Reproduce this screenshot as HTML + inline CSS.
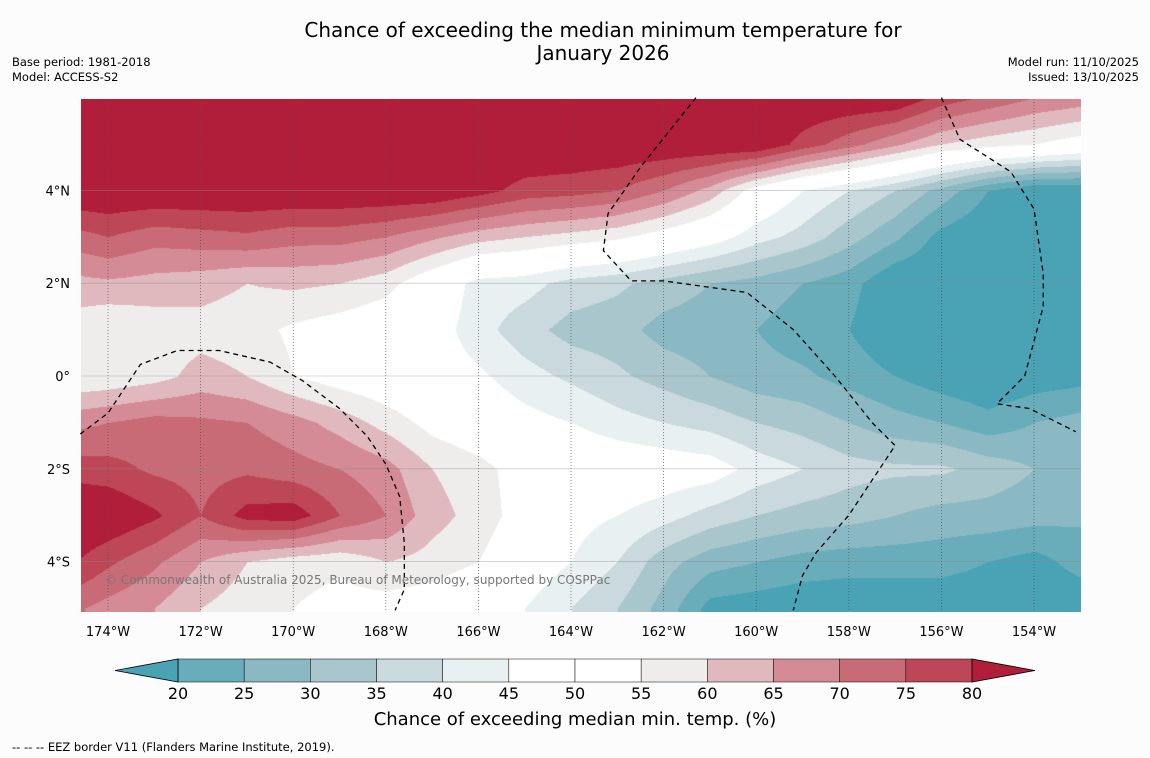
<!DOCTYPE html>
<html><head><meta charset="utf-8">
<style>
body{margin:0;background:#fcfcfc;width:1150px;height:758px;overflow:hidden;font-family:"DejaVu Sans","Liberation Sans",sans-serif;position:relative}
.t{position:absolute;white-space:nowrap;color:#000}
</style></head><body>
<div class="t" style="left:0;width:1206px;text-align:center;top:19px;font-size:20px;line-height:23px">Chance of exceeding the median minimum temperature for<br>January 2026</div>
<div class="t" style="left:12px;top:55px;font-size:11.5px;line-height:15px">Base period: 1981-2018<br>Model: ACCESS-S2</div>
<div class="t" style="right:11px;top:55px;font-size:11.5px;line-height:15px;text-align:right">Model run: 11/10/2025<br>Issued: 13/10/2025</div>
<canvas id="map" width="1000" height="513" style="position:absolute;left:81px;top:99px"></canvas>
<svg id="ov" width="1150" height="758" style="position:absolute;left:0;top:0"></svg>
<div class="t" style="left:105px;top:573px;font-size:12px;color:#777">© Commonwealth of Australia 2025, Bureau of Meteorology, supported by COSPPac</div>
<div class="t" style="left:0;width:1150px;text-align:center;top:709px;font-size:18px">Chance of exceeding median min. temp. (%)</div>
<div class="t" style="left:12px;top:740px;font-size:11.5px">--  --  -- EEZ border V11 (Flanders Marine Institute, 2019).</div>
<script>
const lons=[-175,-174,-173,-172,-171,-170,-169,-168,-167,-166,-165,-164,-163,-162,-161,-160,-159,-158,-157,-156,-155,-154,-153];
const lats=[6,5,4,3,2,1,0,-1,-2,-3,-4,-5];
const r6N=[85,85,85,85,85,85,85,85,85,85,85,85,85,85,85,85,85,85,85,78,74,70,68];
const r5N=[85,85,85,85,85,85,85,85,85,85,85,85,85,85,85,85,78,72,66,60,57,55,52];
const r4N=[85,85,85,85,85,85,85,85,85,82,78,77,75,70,63,52,45,40,35,28,20,15,15];
const r3N=[72,75,72,73,74,72,72,70,66,62,60,58,56,52,48,42,38,32,26,18,15,15,15];
const r2N=[63,64,63,62,60,61,60,57,50,43,42,38,36,33,30,28,25,22,15,15,15,15,15];
const r1N=[58,55,57,58,57,54,52,50,48,42,37,33,32,28,27,25,22,20,15,15,15,15,15];
const r0=[55,56,58,62,60,55,52,50,48,46,42,39,36,33,30,27,26,23,20,17,15,17,18];
const r1S=[68,70,72,71,70,67,63,58,53,50,47,45,42,40,38,35,33,30,27,25,22,25,27];
const r2S=[78,77,74,73,74,72,70,67,60,57,52,51,50,49,48,43,40,37,36,36,33,30,28];
const r3S=[86,85,81,75,82,83,75,70,62,58,52,47,45,42,38,35,33,32,30,28,28,27,26];
const r4S=[82,76,71,65,60,57,56,60,58,55,49,45,40,32,27,25,23,22,22,22,20,18,22];
const r5S=[72,68,65,60,57,55,53,52,51,48,45,40,35,28,18,17,16,16,16,16,16,16,16];
const grid=[r6N,r5N,r4N,r3N,r2N,r1N,r0,r1S,r2S,r3S,r4S,r5S];
const levels=[20,25,30,35,40,45,50,55,60,65,70,75,80];
const colors=['#4aa3b5','#68adb9','#8ab9c4','#a8c6cb','#c9d9dd','#e9f0f1','#ffffff','#ffffff','#eeedec','#e0b9bf','#d48b95','#c86b76','#bd4756','#b01e3a'];
const lonTicks=[-174,-172,-170,-168,-166,-164,-162,-160,-158,-156,-154];
const latTicks=[4,2,0,-2,-4];
const eezA=[[-174.6,-1.25],[-174,-0.8],[-173.3,0.25],[-172.5,0.55],[-171.6,0.55],[-170.5,0.3],[-169.8,-0.1],[-169,-0.7],[-168.4,-1.3],[-168,-1.9],[-167.7,-2.6],[-167.6,-3.6],[-167.6,-4.6],[-167.8,-5.05]];
const eezB=[[-161.3,6],[-162.5,4.5],[-163.2,3.5],[-163.3,2.7],[-162.7,2.05],[-162,2.05],[-160.2,1.8],[-159.2,1],[-158.3,0],[-157.5,-1],[-157,-1.5],[-158,-3],[-158.7,-3.8],[-159,-4.3],[-159.2,-5.05]];
const eezC=[[-156,6],[-155.6,5.1],[-154.5,4.4],[-154,3.6],[-153.8,2.2],[-153.8,1.5],[-154.2,0],[-154.8,-0.6],[-154.1,-0.7],[-153.1,-1.2]];
const X=l=>108+(l+174)*46.3, Y=p=>376-p*46.4;
function val(lon,lat){
 let fx=(lon-lons[0]); let fy=(lats[0]-lat);
 fx=Math.max(0,Math.min(lons.length-1.0001,fx)); fy=Math.max(0,Math.min(lats.length-1.0001,fy));
 const i=Math.floor(fx),j=Math.floor(fy),a=fx-i,b=fy-j;
 return grid[j][i]*(1-a)*(1-b)+grid[j][i+1]*a*(1-b)+grid[j+1][i]*(1-a)*b+grid[j+1][i+1]*a*b;
}
const cv=document.getElementById('map'),ctx=cv.getContext('2d');
const img=ctx.createImageData(1000,513);
const rgb=colors.map(c=>[parseInt(c.substr(1,2),16),parseInt(c.substr(3,2),16),parseInt(c.substr(5,2),16)]);
for(let py=0;py<513;py++){const lat=(376-(py+99))/46.4;
 for(let px=0;px<1000;px++){const lon=(px+81-108)/46.3-174;const v=val(lon,lat);
  let k=0;while(k<levels.length&&v>=levels[k])k++;const c=rgb[k];const o=(py*1000+px)*4;
  img.data[o]=c[0];img.data[o+1]=c[1];img.data[o+2]=c[2];img.data[o+3]=255;}}
ctx.putImageData(img,0,0);
const NS='http://www.w3.org/2000/svg',ov=document.getElementById('ov');
function el(t,a,p){const e=document.createElementNS(NS,t);for(const k in a)e.setAttribute(k,a[k]);(p||ov).appendChild(e);return e;}
const FF='DejaVu Sans, Liberation Sans, sans-serif';
lonTicks.forEach(l=>{const x=X(l);
 const g=el('line',{x1:x,y1:99,x2:x,y2:612,stroke:'#555','stroke-width':0.7,'stroke-dasharray':'1,2'});
 
 const t=el('text',{x:x,y:636,'text-anchor':'middle','font-size':13,'font-family':FF});t.textContent=Math.abs(l)+'°W';
 });
latTicks.forEach(p=>{const y=Y(p);
 const g=el('line',{x1:81,y1:y,x2:1081,y2:y,stroke:'#888','stroke-width':0.6,'stroke-opacity':0.6});
 
 const t=el('text',{x:70,y:y+5,'text-anchor':'end','font-size':13,'font-family':FF});t.textContent=p==0?'0°':Math.abs(p)+'°'+(p>0?'N':'S');
 });
[eezA,eezB,eezC].forEach(pts=>{const p=el('polyline',{points:pts.map(q=>X(q[0])+','+Y(q[1])).join(' '),fill:'none',stroke:'#000','stroke-width':1.3,'stroke-dasharray':'5,4'});
 });
const cb0=178,cbw=(972-178)/12,cy=659,ch=23;
for(let k=0;k<12;k++){const r=el('rect',{x:cb0+k*cbw,y:cy,width:cbw,height:ch,fill:colors[k+1],stroke:'#000','stroke-width':0.5});
 }
const lt=el('polygon',{points:`115,${cy+ch/2} ${cb0},${cy} ${cb0},${cy+ch}`,fill:colors[0],stroke:'#000','stroke-width':0.8});

const rt=el('polygon',{points:`1035,${cy+ch/2} 972,${cy} 972,${cy+ch}`,fill:colors[13],stroke:'#000','stroke-width':0.8});

levels.forEach((v,k)=>{const t=el('text',{x:cb0+k*cbw,y:699,'text-anchor':'middle','font-size':16,'font-family':FF});t.textContent=v;
 });
</script>
</body></html>
